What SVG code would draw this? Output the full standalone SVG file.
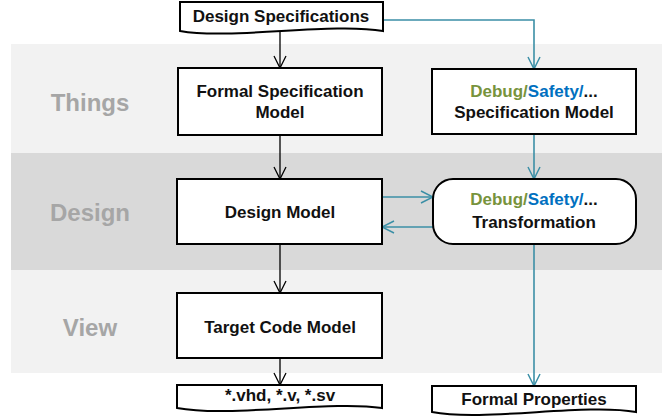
<svg xmlns="http://www.w3.org/2000/svg" width="662" height="418" viewBox="0 0 662 418">
<style>
.band-l{fill:#F2F2F2}
.band-d{fill:#D9D9D9}
.lbl{font-family:"Liberation Sans",Arial,sans-serif;font-weight:bold;font-size:24px;fill:#A6A6A6;text-anchor:middle}
.box{fill:#FFFFFF;stroke:#000000;stroke-width:2}
.t{font-family:"Liberation Sans",Arial,sans-serif;font-weight:bold;font-size:17px;fill:#111111;text-anchor:middle}
.g{fill:#77933C}
.b{fill:#0070C0}
.cb{fill:none;stroke:#000000;stroke-width:1.3}
.ct{fill:none;stroke:#3B8FA6;stroke-width:1.6}
</style>
<defs>
<marker id="ab" viewBox="0 0 14 14" refX="13" refY="7" markerWidth="14" markerHeight="14" markerUnits="userSpaceOnUse" orient="auto">
<path d="M1,1 L13,7 L1,13" fill="none" stroke="#000000" stroke-width="1.3"/>
</marker>
<marker id="at" viewBox="0 0 14 14" refX="13" refY="7" markerWidth="14" markerHeight="14" markerUnits="userSpaceOnUse" orient="auto">
<path d="M1,1 L13,7 L1,13" fill="none" stroke="#3B8FA6" stroke-width="1.5"/>
</marker>
</defs>
<g id="bands">
<rect class="band-l" x="11" y="44" width="651" height="109"/>
<rect class="band-d" x="11" y="153" width="651" height="117"/>
<rect class="band-l" x="11" y="270" width="651" height="103"/>
<text class="lbl" x="90" y="111">Things</text>
<text class="lbl" x="90" y="221">Design</text>
<text class="lbl" x="90" y="336">View</text>
</g>
<g id="connectors">
<path class="cb" d="M280,31 V68" marker-end="url(#ab)"/>
<path class="cb" d="M280,135 V179" marker-end="url(#ab)"/>
<path class="cb" d="M280,244 V293" marker-end="url(#ab)"/>
<path class="cb" d="M280,358 V385" marker-end="url(#ab)"/>
<path class="ct" d="M383,20 H534 V69" marker-end="url(#at)"/>
<path class="ct" d="M534,134 V179" marker-end="url(#at)"/>
<path class="ct" d="M382,197 H433" marker-end="url(#at)"/>
<path class="ct" d="M433,227 H382" marker-end="url(#at)"/>
<path class="ct" d="M534,244 V386" marker-end="url(#at)"/>
</g>
<g id="design-specifications">
<path class="box" d="M180,2 H383 V31 C333,22 230,40 180,31 Z"/>
<text class="t" x="281" y="22">Design Specifications</text>
</g>
<g id="formal-specification-model">
<rect class="box" x="178" y="68" width="204" height="67"/>
<text class="t" x="280" y="97">Formal Specification</text>
<text class="t" x="280" y="118">Model</text>
</g>
<g id="debug-specification-model">
<rect class="box" x="432" y="69" width="204" height="65"/>
<text class="t" x="534" y="97"><tspan class="g">Debug</tspan><tspan class="g">/</tspan><tspan class="b">Safety/</tspan>...</text>
<text class="t" x="534" y="118">Specification Model</text>
</g>
<g id="design-model">
<rect class="box" x="177" y="179" width="205" height="65"/>
<text class="t" x="280" y="218">Design Model</text>
</g>
<g id="transformation">
<rect class="box" x="433" y="179" width="203" height="65" rx="20" ry="20"/>
<text class="t" x="534" y="205"><tspan class="g">Debug</tspan><tspan class="g">/</tspan><tspan class="b">Safety/</tspan>...</text>
<text class="t" x="534" y="228">Transformation</text>
</g>
<g id="target-code-model">
<rect class="box" x="177" y="293" width="205" height="65"/>
<text class="t" x="280" y="333">Target Code Model</text>
</g>
<g id="vhd-files">
<path class="box" d="M177,385 H382 V408 C330,400 230,418 177,408 Z"/>
<text class="t" x="280" y="401">*.vhd, *.v, *.sv</text>
</g>
<g id="formal-properties">
<path class="box" d="M432,386 H636 V412 C585,403 483,422 432,412 Z"/>
<text class="t" x="534" y="405">Formal Properties</text>
</g>
</svg>
